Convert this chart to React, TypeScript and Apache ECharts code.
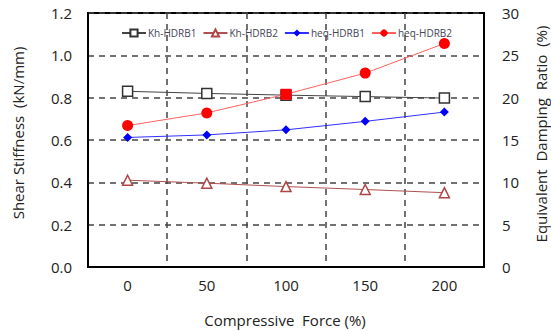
import React, { useEffect, useRef } from "react";
import * as echarts from "echarts";

const categories = ["0", "50", "100", "150", "200"];
const khHDRB1 = [0.83, 0.82, 0.812, 0.805, 0.798];
const khHDRB2 = [0.41, 0.396, 0.38, 0.366, 0.351];
const heqHDRB1 = [15.3, 15.6, 16.2, 17.2, 18.3];
const heqHDRB2 = [16.7, 18.2, 20.4, 22.9, 26.4];
const leftTicks = { min: 0, max: 1.2, interval: 0.2 };
const rightTicks = { min: 0, max: 30, interval: 5 };
const xTitle = "Compressive  Force (%)";
const leftTitle = "Shear Stiffness  (kN/mm)";
const rightTitle = "Equivalent  Damping  Ratio  (%)";

export default function App() {
  const ref = useRef<HTMLDivElement>(null);
  useEffect(() => {
    const chart = echarts.init(ref.current!, null, { renderer: "svg" });
    const font = "'Open Sans', 'Noto Sans', sans-serif";
    const gridLine = { show: true, lineStyle: { color: "#444", type: [6, 5], width: 1.5 } };
    const titleStyle = { fontSize: 15, fill: "#222", fontFamily: font, align: "center", verticalAlign: "middle" };
    chart.setOption({
      animation: false,
      textStyle: { fontFamily: font },
      grid: { left: 88, right: 67, top: 13, bottom: 64, show: true, borderColor: "#000", borderWidth: 2, backgroundColor: "transparent" },
      legend: {
        top: 23,
        left: 116,
        itemWidth: 24,
        itemHeight: 9,
        itemGap: 6,
        textStyle: { fontSize: 10, color: "#445", fontFamily: font, padding: [0, 0, 0, -3] },
        data: ["Kh-HDRB1", "Kh-HDRB2", "heq-HDRB1", "heq-HDRB2"],
      },
      graphic: [
        { type: "text", x: 285, y: 320, style: { ...titleStyle, text: xTitle } },
        { type: "text", x: 18, y: 133, rotation: Math.PI / 2, style: { ...titleStyle, text: leftTitle } },
        { type: "text", x: 541, y: 134, rotation: Math.PI / 2, style: { ...titleStyle, text: rightTitle } },
      ],
      xAxis: {
        type: "category",
        data: categories,
        boundaryGap: true,
        axisLine: { lineStyle: { color: "#000", width: 2 } },
        axisTick: { show: false },
        axisLabel: { fontSize: 15, color: "#222", margin: 10 },
        splitLine: gridLine,
      },
      yAxis: [
        {
          type: "value",
          ...leftTicks,
          axisLine: { show: true, lineStyle: { color: "#000", width: 2 } },
          axisTick: { show: false },
          axisLabel: { fontSize: 15, color: "#222", margin: 16, formatter: (v: number) => v.toFixed(1) },
          splitLine: gridLine,
        },
        {
          type: "value",
          ...rightTicks,
          axisLine: { show: true, lineStyle: { color: "#000", width: 2 } },
          axisTick: { show: false },
          axisLabel: { fontSize: 15, color: "#222", margin: 18 },
          splitLine: { show: false },
        },
      ],
      series: [
        {
          name: "Kh-HDRB1",
          type: "line",
          yAxisIndex: 0,
          data: khHDRB1,
          symbol: "rect",
          symbolSize: 10,
          itemStyle: { color: "#fff", borderColor: "#333", borderWidth: 1.5 },
          lineStyle: { color: "#444", width: 1 },
          z: 3,
        },
        {
          name: "Kh-HDRB2",
          type: "line",
          yAxisIndex: 0,
          data: khHDRB2,
          symbol: "triangle",
          symbolSize: 10,
          itemStyle: { color: "#fff", borderColor: "#b04545", borderWidth: 1.5 },
          lineStyle: { color: "#b05050", width: 1 },
        },
        {
          name: "heq-HDRB1",
          type: "line",
          yAxisIndex: 1,
          data: heqHDRB1,
          symbol: "diamond",
          symbolSize: 9,
          itemStyle: { color: "#0000ff" },
          lineStyle: { color: "#3030ff", width: 1 },
        },
        {
          name: "heq-HDRB2",
          type: "line",
          yAxisIndex: 1,
          data: heqHDRB2.map((v, i) => (i === 2 ? { value: v, symbol: "rect" } : v)),
          symbol: "circle",
          symbolSize: 11,
          itemStyle: { color: "#ff0000" },
          lineStyle: { color: "#ff6060", width: 1 },
          z: 4,
        },
      ],
    });
    return () => chart.dispose();
  }, []);
  return <div ref={ref} style={{ width: 551, height: 331, position: "absolute", left: 0, top: 0 }} />;
}
